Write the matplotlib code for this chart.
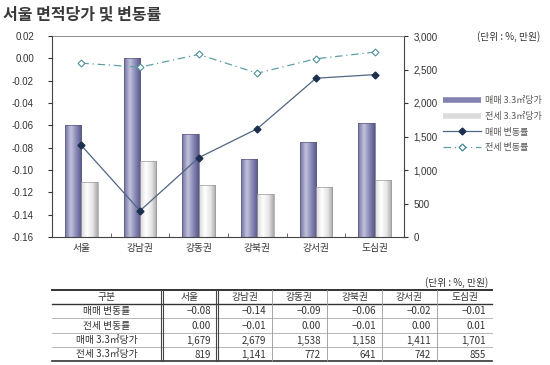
import numpy as np
import matplotlib.pyplot as plt
from matplotlib.colors import LinearSegmentedColormap
from matplotlib.lines import Line2D

plt.rcParams['font.family'] = ['Noto Sans CJK KR', 'DejaVu Sans']

regions = ['서울', '강남권', '강동권', '강북권', '강서권', '도심권']
sale_rate = [-0.078, -0.1365, -0.089, -0.063, -0.0178, -0.0146]
jeonse_rate = [-0.0043, -0.0079, 0.0035, -0.0133, -0.0004, 0.0056]
sale_price = [1679, 2679, 1538, 1158, 1411, 1701]
jeonse_price = [819, 1141, 772, 641, 742, 855]
row_labels = ['매매 변동률', '전세 변동률', '매매 3.3㎡당가', '전세 3.3㎡당가']
legend_labels = ['매매 3.3㎡당가', '전세 3.3㎡당가', '매매 변동률', '전세 변동률']
rate_ticks = [0.02, 0.00, -0.02, -0.04, -0.06, -0.08, -0.10, -0.12, -0.14, -0.16]
price_ticks = [0, 500, 1000, 1500, 2000, 2500, 3000]
unit_text = '(단위 : %, 만원)'


def fmt2(v):
    return f"{round(v, 2) + 0.0:.2f}"


def shade_bars(ax, bars, cmap):
    # cylinder-ish gradient inside each bar
    grad = np.linspace(0, 1, 64).reshape(1, -1)
    for b in bars:
        x, y = b.get_x(), b.get_y()
        w, h = b.get_width(), b.get_height()
        im = ax.imshow(grad, cmap=cmap, extent=(x, x + w, y, y + h),
                       aspect='auto', zorder=2, interpolation='bilinear')
        im.set_clip_path(b)
        b.set_facecolor('none')
        b.set_zorder(3)


fig = plt.figure(figsize=(5.5, 3.65), dpi=100)

# ---- table (pixel coords) ----
tab = fig.add_axes([0, 0, 1, 1])
tab.set_xlim(0, 550)
tab.set_ylim(365, 0)
tab.axis('off')

col_edges = [52, 162, 217, 272, 327, 382, 437, 492]
row_edges = [290, 303.5, 318, 333, 347, 361]
tab.plot([52, 492], [row_edges[0]] * 2, color='#333', lw=1.4)
tab.plot([52, 492], [row_edges[1]] * 2, color='#333', lw=1.0)
for yy in row_edges[2:-1]:
    tab.plot([52, 492], [yy, yy], color='#aaa', lw=0.6)
tab.plot([52, 492], [row_edges[-1]] * 2, color='#333', lw=1.2)
for i, xx in enumerate(col_edges[1:-1]):
    if i < 2:
        for d in (-1.2, 1.2):
            tab.plot([xx + d, xx + d], [row_edges[0], row_edges[-1]], color='#444', lw=0.8)
    else:
        tab.plot([xx, xx], [row_edges[0], row_edges[-1]], color='#999', lw=0.6)

tfs = 7
header = ['구분'] + regions
for j, h in enumerate(header):
    cx = (col_edges[j] + col_edges[j + 1]) / 2
    tab.text(cx, (row_edges[0] + row_edges[1]) / 2 + 0.5, h, ha='center', va='center',
             fontsize=tfs, color='#333')

rows = [
    [fmt2(v) for v in sale_rate],
    [fmt2(v) for v in jeonse_rate],
    [f"{v:,}" for v in sale_price],
    [f"{v:,}" for v in jeonse_price],
]
for i, (lab, vals) in enumerate(zip(row_labels, rows)):
    cy = (row_edges[i + 1] + row_edges[i + 2]) / 2 + 0.5
    tab.text((col_edges[0] + col_edges[1]) / 2, cy, lab, ha='center', va='center',
             fontsize=tfs, color='#333')
    for j, s in enumerate(vals):
        tab.text(col_edges[j + 2] - 6, cy, s.replace('-', '−'), ha='right', va='center',
                 fontsize=tfs, color='#333')
tab.text(488, 283, unit_text, ha='right', va='center', fontsize=7, color='#333')

# ---- chart ----
ax = fig.add_axes([52 / 550, 1 - 237 / 365, 352 / 550, 201 / 365])
x = np.arange(len(regions))
w = 0.28

sale_cmap = LinearSegmentedColormap.from_list(
    'sale', [(0, '#7272a2'), (0.35, '#c2c2dc'), (0.7, '#8484b2'), (1, '#585886')])
jeonse_cmap = LinearSegmentedColormap.from_list(
    'jeonse', [(0, '#d8d8d8'), (0.35, '#ffffff'), (0.7, '#e4e4e4'), (1, '#a8a8a8')])

b1 = ax.bar(x - w / 2, sale_price, w, edgecolor='#5a5a85', linewidth=0.5)
b2 = ax.bar(x + w / 2, jeonse_price, w, edgecolor='#9a9a9a', linewidth=0.5)
shade_bars(ax, b1, sale_cmap)
shade_bars(ax, b2, jeonse_cmap)

ax.set_xlim(-0.5, len(regions) - 0.5)
ax.set_ylim(0, 3000)
ax.yaxis.tick_right()
ax.set_yticks(price_ticks, [f"{t:,}" for t in price_ticks], fontfamily='Liberation Sans')
ax.tick_params(axis='y', labelsize=7, length=3, pad=4, colors='#333')
ax.set_xticks(x, regions)
ax.set_xticks(x[:-1] + 0.5, minor=True)
ax.tick_params(axis='x', which='major', length=0, pad=4, labelsize=7, labelcolor='#333')
ax.tick_params(axis='x', which='minor', length=3, direction='in', color='#555')
for s in ['left', 'bottom', 'right']:
    ax.spines[s].set_color('#444')
    ax.spines[s].set_linewidth(0.8)
ax.spines['top'].set_color('#777')
ax.spines['top'].set_linewidth(0.6)

ax2 = ax.twinx()
ax2.yaxis.tick_left()
ax.yaxis.tick_right()
ax2.plot(x, sale_rate, color='#4f6684', lw=0.9, marker='D', ms=3.5,
         mfc='#1b2f4e', mec='#1b2f4e', zorder=5)
ax2.plot(x, jeonse_rate, color='#5f9fa8', lw=0.9, dashes=(6, 3, 1, 3), marker='D',
         ms=3.5, mfc='white', mec='#4f8f98', mew=0.8, zorder=5)
ax2.set_ylim(-0.16, 0.02)
ax2.set_yticks(rate_ticks, [fmt2(t) for t in rate_ticks], fontfamily='Liberation Sans')
ax2.tick_params(axis='y', labelsize=7, length=3, pad=10, colors='#333')
for s in ax2.spines.values():
    s.set_visible(False)

fig.text(3 / 550, 1 - 14 / 365, '서울 면적당가 및 변동률', fontsize=11.5,
         weight='bold', va='center', color='#3a3a3a')
fig.text(477 / 550, 1 - 37 / 365, unit_text, fontsize=7, va='center', color='#333')

handles = [
    Line2D([], [], color='#8282b0', lw=4, solid_capstyle='butt'),
    Line2D([], [], color='#dcdcdc', lw=4, solid_capstyle='butt'),
    Line2D([], [], color='#4f6684', lw=0.9, marker='D', ms=3.5, mfc='#1b2f4e', mec='#1b2f4e'),
    Line2D([], [], color='#5f9fa8', lw=0.9, dashes=(6, 3, 1, 3), marker='D', ms=3.5,
           mfc='white', mec='#4f8f98'),
]
fig.legend(handles, legend_labels, loc='upper left', bbox_to_anchor=(443 / 550, 1 - 96 / 365),
           frameon=False, fontsize=6.5, handlelength=4.2, labelspacing=0.75,
           handletextpad=0.4, labelcolor='#555', borderaxespad=0, borderpad=0)

fig.savefig('out.png', dpi=100)
